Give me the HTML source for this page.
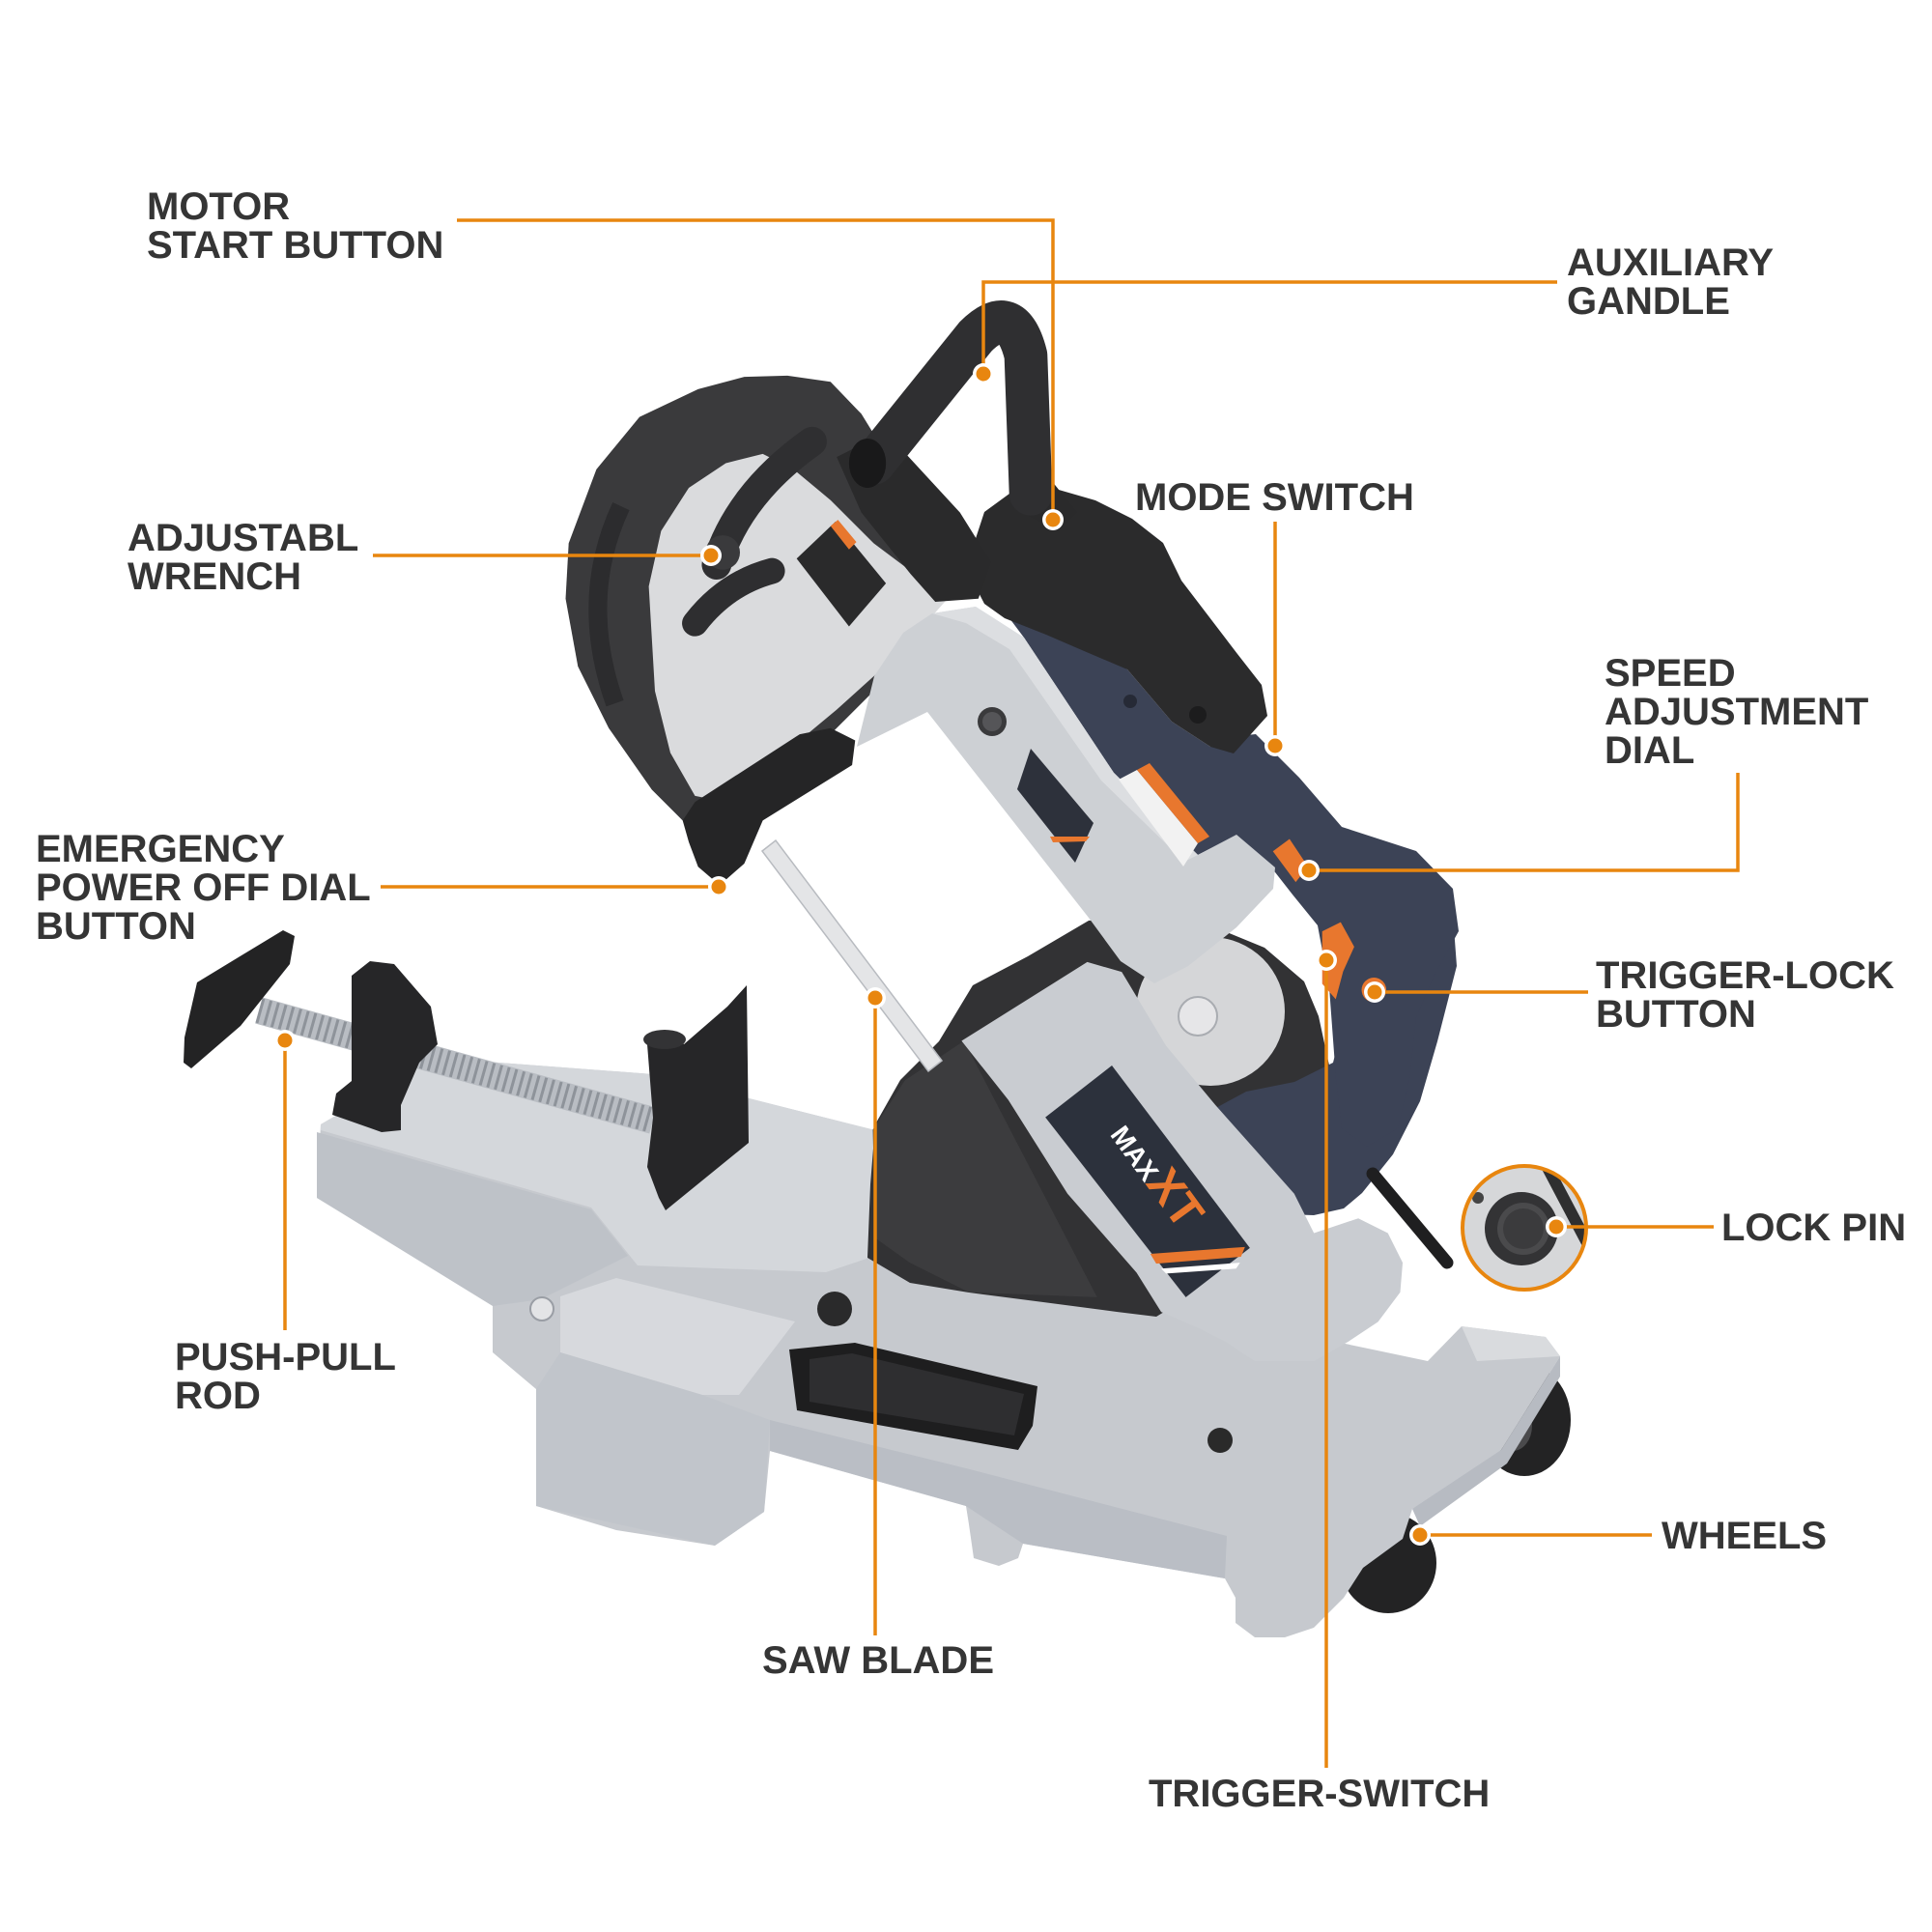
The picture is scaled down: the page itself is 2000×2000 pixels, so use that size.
<!DOCTYPE html>
<html>
<head>
<meta charset="utf-8">
<style>
html,body{margin:0;padding:0;background:#fff;}
#wrap{position:relative;width:2000px;height:2000px;overflow:hidden;background:#fff;}
svg{position:absolute;left:0;top:0;}
.t{position:absolute;font-family:"Liberation Sans",Arial,sans-serif;font-weight:bold;font-size:40px;line-height:40px;color:#353535;white-space:nowrap;}
</style>
</head>
<body>
<div id="wrap">
<svg width="2000" height="2000" viewBox="0 0 2000 2000">
  <!-- wheels -->
  <ellipse cx="1578" cy="1470" rx="48" ry="58" fill="#232324"/>
  <ellipse cx="1566" cy="1476" rx="20" ry="26" fill="#4a4a4c"/>
  <ellipse cx="1437" cy="1618" rx="50" ry="52" fill="#232324"/>

  <!-- base -->
  <polygon fill="#c6c9ce" points="332,1164 450,1095 676,1112 906,1170 960,1260 1150,1340 1478,1409 1513,1373 1600,1384 1615,1404 1554,1501 1523,1532 1462,1562 1452,1593 1411,1623 1391,1654 1360,1685 1330,1695 1299,1695 1279,1680 1279,1654 1268,1634 1059,1598 1054,1613 1034,1621 1008,1613 1003,1578 1000,1559 797,1502 791,1565 740,1600 638,1584 555,1559 555,1438 510,1400 510,1349 328,1240"/>
  <polygon fill="#d4d7db" points="332,1164 450,1095 676,1112 906,1170 906,1300 855,1317 660,1310 612,1250 332,1170"/>
  <polygon fill="#bec2c8" points="328,1172 612,1252 650,1300 560,1345 510,1352 328,1240"/>
  <polygon fill="#d7d9dd" points="580,1342 638,1323 823,1368 765,1444 727,1444 580,1400"/>
  <polygon fill="#c1c5cb" points="580,1400 727,1444 797,1470 791,1565 740,1600 555,1559 555,1438"/>
  <polygon fill="#babec5" points="797,1470 1000,1520 1270,1590 1268,1634 1059,1598 1000,1559 797,1502"/>
  <polygon fill="#d9dbde" points="1513,1373 1600,1384 1615,1404 1529,1409"/>
  <polygon fill="#b7bbc2" points="1462,1562 1554,1501 1615,1404 1615,1425 1560,1515 1470,1580"/>
  <circle cx="1263" cy="1491" r="13" fill="#2a2a2a"/>
  <circle cx="561" cy="1355" r="12" fill="#e3e4e6" stroke="#9a9ea5" stroke-width="2"/>
  <circle cx="864" cy="1355" r="18" fill="#2a2a2b"/>
  <!-- tray -->
  <polygon fill="#1e1e1f" points="817,1397 885,1390 1074,1435 1069,1476 1054,1501 825,1460"/>
  <polygon fill="#2e2e30" points="838,1407 882,1401 1060,1443 1050,1486 838,1451"/>

  <!-- vise -->
  <line x1="268" y1="1046" x2="676" y2="1160" stroke="#b9bdc3" stroke-width="28"/>
  <line x1="268" y1="1046" x2="676" y2="1160" stroke="#8e939a" stroke-width="26" stroke-dasharray="3 5"/>
  <polygon fill="#232324" points="191,1074 204,1017 293,963 305,969 300,998 249,1062 198,1106 190,1100"/>
  <polygon fill="#262628" points="364,1010 383,995 408,998 446,1042 453,1081 434,1100 415,1144 415,1170 395,1172 344,1154 348,1132 364,1119"/>
  <polygon fill="#262628" points="670,1081 695,1068 708,1081 753,1042 773,1020 775,1183 689,1253 682,1240 670,1208 676,1157"/>
  <ellipse cx="688" cy="1076" rx="22" ry="10" fill="#333335"/>

  <!-- lower housing -->
  <polygon fill="#323234" points="898,1302 901,1226 906,1164 932,1118 972,1078 1007,1020 1064,990 1127,953 1180,950 1258,960 1309,981 1350,1016 1365,1052 1376,1103 1381,1164 1360,1236 1300,1300 1238,1338 1197,1363 1156,1358 1080,1348 1003,1338 942,1328"/>
  <g transform="translate(850 950) scale(0.5102)">
    <polygon fill="#3c3c3e" points="170,330 290,250 560,770 300,760 180,700 110,650 105,430"/>
  </g>
  <circle cx="1253" cy="1047" r="77" fill="#d5d6d8"/>
  <circle cx="1240" cy="1052" r="20" fill="#e6e6e8" stroke="#a9acb1" stroke-width="2"/>

  <!-- navy lower -->
  <polygon fill="#3c4356" points="1253,1150 1290,1130 1340,1120 1380,1100 1390,1060 1420,1040 1480,1000 1505,960 1508,1000 1488,1078 1470,1140 1442,1195 1410,1235 1391,1251 1360,1258 1300,1256 1262,1215"/>

  <!-- lower arm -->
  <g transform="translate(850 950) scale(0.5102)">
    <polygon fill="#c9ccd1" points="285,250 540,90 610,110 700,260 800,380 880,470 960,560 1000,640 1090,610 1150,640 1180,700 1175,760 1130,820 1070,860 1000,900 880,900 820,860 760,830 690,800 640,720 500,560 380,370"/>
    <polygon fill="#2c313c" points="455,405 590,300 870,670 740,770"/>
    <polygon fill="#e8772e" points="668,682 860,668 852,688 680,702"/>
    <polygon fill="#ffffff" points="690,712 850,700 842,712 700,722"/>
    <text transform="translate(585,440) rotate(54)" font-family="Liberation Sans, Arial, sans-serif" font-weight="bold" font-size="55" fill="#ffffff">MAX<tspan fill="#e8772e" font-size="95">XT</tspan></text>
  </g>
  <!-- cord -->
  <line x1="1421" y1="1215" x2="1498" y2="1307" stroke="#1f1f20" stroke-width="13" stroke-linecap="round"/>

  <!-- blade -->
  <polygon fill="#e4e5e7" stroke="#b8bbc0" stroke-width="1.5" points="789,881 803,870 975,1098 961,1109"/>

  <!-- upper housing -->
  <g transform="translate(560 320) scale(0.6378)">
    <polygon fill="#3a3a3c" points="255,130 330,110 400,108 470,118 520,170 600,300 660,430 600,560 420,740 300,850 240,840 180,780 110,680 60,580 40,470 45,380 90,260 160,175"/>
    <path d="M 120 640 Q 60 470 130 320" stroke="#2c2c2e" stroke-width="30" fill="none"/>
    <polygon fill="#dadbdd" points="175,450 195,360 240,290 300,250 360,235 410,260 470,310 540,380 620,440 660,470 580,560 480,650 420,700 360,750 300,800 250,790 210,720 185,620"/>
    <path d="M 285 415 Q 320 300 440 215" stroke="#2f2f31" stroke-width="48" stroke-linecap="round" fill="none"/>
    <circle cx="295" cy="395" r="28" fill="#3a3a3c"/>
    <path d="M 250 510 Q 300 445 375 425" stroke="#2e2e30" stroke-width="42" stroke-linecap="round" fill="none"/>
    <polygon fill="#2a2a2b" points="415,405 478,345 560,445 500,515"/>
    <polygon fill="#e8772e" points="470,352 482,342 512,378 500,390"/>
    <polygon fill="#252526" points="230,830 250,800 420,690 470,680 510,700 505,740 360,830 330,900 290,935 255,905 240,865"/>
  </g>

  <!-- navy motor (orig coords) -->
  <polygon fill="#3c4356" points="1045,640 1102,650 1167,693 1213,747 1253,773 1281,762 1300,760 1345,805 1389,856 1466,881 1504,920 1510,964 1485,1009 1466,1053 1459,1117 1447,1168 1415,1187 1389,1168 1383,1117 1376,1022 1364,958 1338,926 1313,894 1274,868 1240,885 1153,800 1060,660"/>
  <circle cx="1170" cy="726" r="7" fill="#262a36"/>
  <circle cx="1208" cy="726" r="7" fill="#262a36"/>
  <!-- upper arm (orig coords) -->
  <polygon fill="#cdd0d4" points="887,773 905,700 935,655 965,635 1010,628 1060,660 1153,800 1240,885 1280,864 1320,898 1318,920 1280,960 1230,1000 1195,1018 1160,995 1127,950 960,737"/>
  <polygon fill="#dcdee1" points="965,635 1010,628 1060,660 1153,800 1240,885 1226,892 1140,808 1045,672 1000,645"/>
  <polygon fill="#2d313b" points="1053,817 1067,775 1132,852 1113,893"/>
  <polygon fill="#e8772e" points="1087,866 1128,866 1124,871 1090,872"/>
  <circle cx="1027" cy="747" r="15" fill="#3a3a3c"/>
  <circle cx="1027" cy="747" r="10" fill="#555558"/>
  <polygon fill="#f2f2f2" points="1158,807 1177,797 1240,873 1225,897"/>
  <polygon fill="#e8772e" points="1177,797 1190,790 1252,866 1240,873"/>
  <!-- black cover (orig coords) -->
  <polygon fill="#2b2b2c" points="1000,588 1019,530 1045,511 1089,505 1134,518 1172,537 1204,562 1223,601 1281,677 1306,709 1312,741 1277,780 1253,773 1213,747 1167,693 1120,673 1083,657 1040,640 1019,625"/>
  <circle cx="1240" cy="740" r="9" fill="#1c1c1d"/>

  <!-- handle & small orange parts -->
  <g transform="translate(560 320) scale(0.6378)">
    <polygon fill="#2a2a2b" points="480,240 560,200 680,330 730,410 710,470 640,475 600,430 520,330"/>
    <polygon fill="#2a2a2b" points="760,260 830,280 870,330 840,360 780,330"/>
    <path d="M 540 250 L 705 45 Q 765 -15 787 75 L 795 300" stroke="#2f2f31" stroke-width="70" stroke-linecap="round" stroke-linejoin="round" fill="none"/>
    <ellipse cx="530" cy="250" rx="30" ry="40" fill="#19191a"/>
    <polygon fill="#e8772e" points="1268,1010 1298,995 1320,1035 1302,1075 1290,1120 1268,1095"/>
    <polygon fill="#e8772e" points="1188,880 1215,860 1245,905 1225,930"/>
    <circle cx="1352" cy="1105" r="20" fill="#e8772e"/>
  </g>

  <!-- lock pin inset -->
  <clipPath id="cp"><circle cx="1578" cy="1271" r="64"/></clipPath>
  <circle cx="1578" cy="1271" r="64" fill="#d6d7d9"/>
  <g clip-path="url(#cp)">
    <line x1="1600" y1="1205" x2="1650" y2="1300" stroke="#2f2f30" stroke-width="12"/>
    <circle cx="1530" cy="1240" r="6" fill="#444"/>
  </g>
  <circle cx="1575" cy="1272" r="38" fill="#333335"/>
  <circle cx="1577" cy="1272" r="27" fill="#4a4a4c"/>
  <circle cx="1577" cy="1272" r="21" fill="#3b3b3d"/>
  <circle cx="1578" cy="1271" r="64" fill="none" stroke="#e8860f" stroke-width="4"/>

  <!-- connector lines -->
  <g stroke="#e8860f" stroke-width="3.5" fill="none">
    <polyline points="473,228 1090,228 1090,538"/>
    <polyline points="1612,292 1018,292 1018,387"/>
    <polyline points="386,575 736,575"/>
    <polyline points="1320,540 1320,772"/>
    <polyline points="1799,800 1799,901 1355,901"/>
    <polyline points="1644,1027 1423,1027"/>
    <polyline points="1373,994 1373,1830"/>
    <polyline points="394,918 744,918"/>
    <polyline points="295,1077 295,1377"/>
    <polyline points="906,1033 906,1693"/>
    <polyline points="1611,1270 1774,1270"/>
    <polyline points="1470,1589 1710,1589"/>
  </g>
  <!-- dots -->
  <g>
    <g fill="#ffffff">
      <circle cx="1090" cy="538" r="11"/><circle cx="1018" cy="387" r="11"/>
      <circle cx="736" cy="575" r="11"/><circle cx="1320" cy="772" r="11"/>
      <circle cx="1355" cy="901" r="11"/><circle cx="1423" cy="1027" r="11"/>
      <circle cx="1373" cy="994" r="11"/><circle cx="744" cy="918" r="11"/>
      <circle cx="295" cy="1077" r="11"/><circle cx="906" cy="1033" r="11"/>
      <circle cx="1611" cy="1270" r="11"/><circle cx="1470" cy="1589" r="11"/>
    </g>
    <g fill="#e8860f">
      <circle cx="1090" cy="538" r="7.5"/><circle cx="1018" cy="387" r="7.5"/>
      <circle cx="736" cy="575" r="7.5"/><circle cx="1320" cy="772" r="7.5"/>
      <circle cx="1355" cy="901" r="7.5"/><circle cx="1423" cy="1027" r="7.5"/>
      <circle cx="1373" cy="994" r="7.5"/><circle cx="744" cy="918" r="7.5"/>
      <circle cx="295" cy="1077" r="7.5"/><circle cx="906" cy="1033" r="7.5"/>
      <circle cx="1611" cy="1270" r="7.5"/><circle cx="1470" cy="1589" r="7.5"/>
    </g>
  </g>
</svg>

<div class="t" style="left:152px;top:194px;">MOTOR<br>START BUTTON</div>
<div class="t" style="left:1622px;top:252px;">AUXILIARY<br>GANDLE</div>
<div class="t" style="left:132px;top:537px;">ADJUSTABL<br>WRENCH</div>
<div class="t" style="left:1175px;top:495px;">MODE SWITCH</div>
<div class="t" style="left:1661px;top:677px;">SPEED<br>ADJUSTMENT<br>DIAL</div>
<div class="t" style="left:37px;top:859px;">EMERGENCY<br>POWER OFF DIAL<br>BUTTON</div>
<div class="t" style="left:1652px;top:990px;">TRIGGER-LOCK<br>BUTTON</div>
<div class="t" style="left:1782px;top:1251px;">LOCK PIN</div>
<div class="t" style="left:181px;top:1385px;">PUSH-PULL<br>ROD</div>
<div class="t" style="left:1720px;top:1570px;">WHEELS</div>
<div class="t" style="left:789px;top:1699px;">SAW BLADE</div>
<div class="t" style="left:1189px;top:1837px;">TRIGGER-SWITCH</div>
</div>
</body>
</html>
